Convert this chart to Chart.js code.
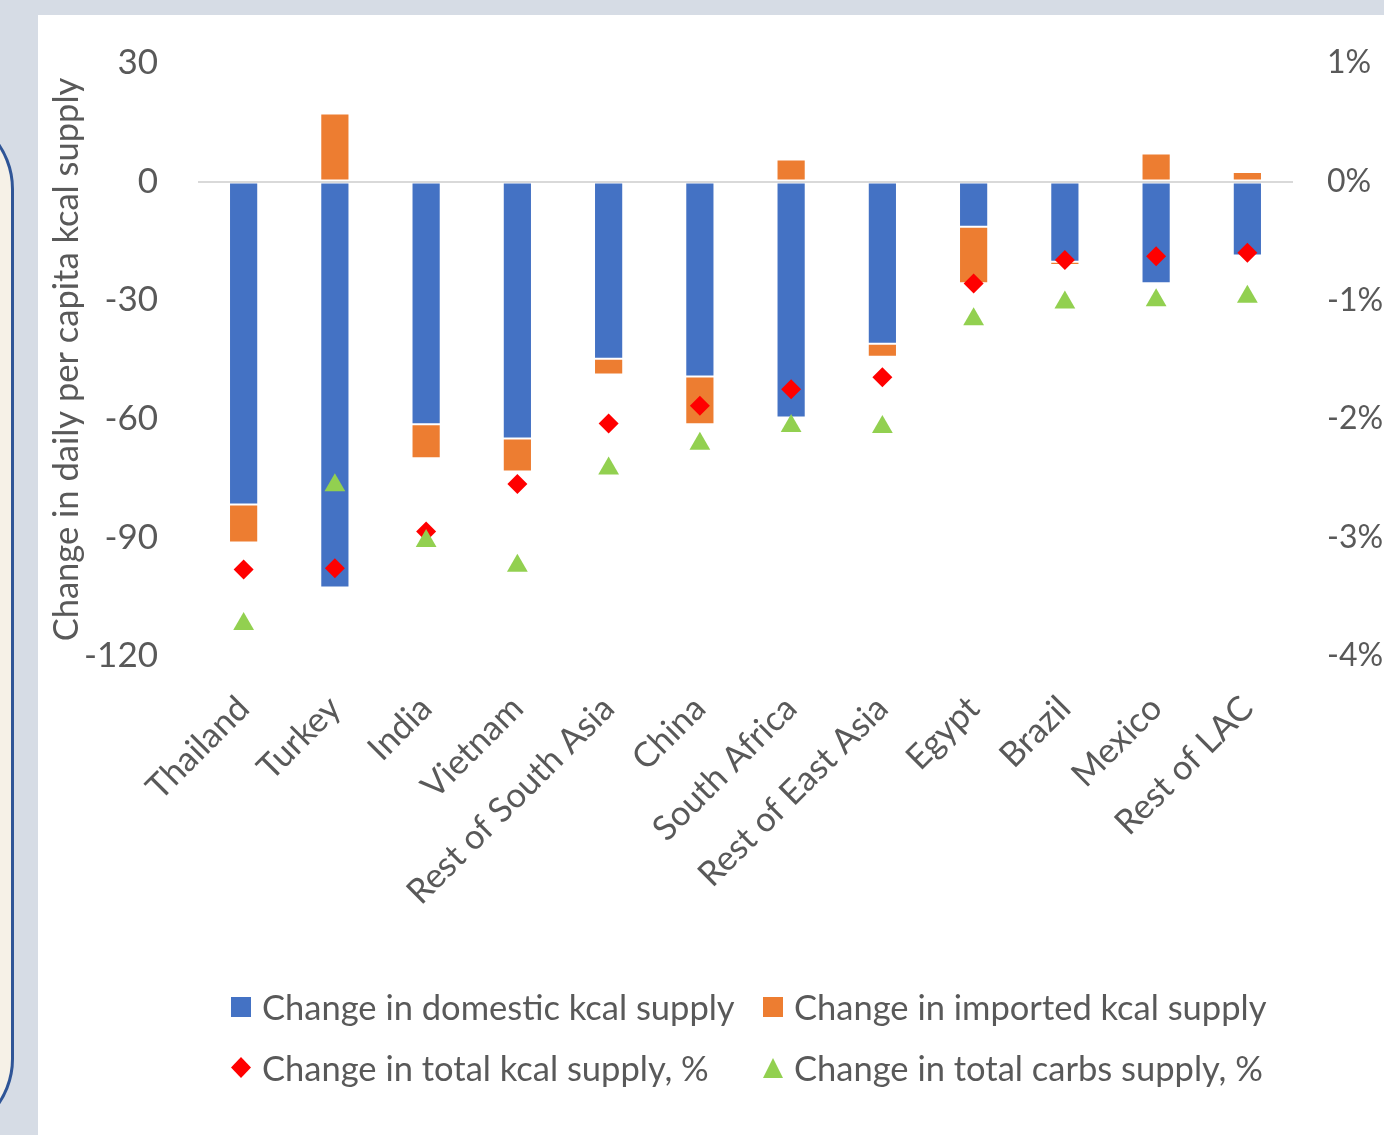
<!DOCTYPE html>
<html>
<head>
<meta charset="utf-8">
<title>Change in kcal supply</title>
<script src="https://cdn.jsdelivr.net/npm/chart.js@4.4.1/dist/chart.umd.min.js"></script>
<style>
  html, body { margin: 0; }
  body { width: 1384px; height: 1135px; background: #d6dce5; position: relative; overflow: hidden; }
  .tab { position: absolute; left: -222px; top: 109px; width: 230px; height: 1024px; border: 3px solid #2f5597; border-radius: 80px; background: #f6f1e7; }
  .panel { position: absolute; left: 38px; top: 15px; width: 1346px; height: 1120px; background: #fff; }
  #legend {
    position: absolute; left: 231px; top: 976px;
    display: grid; grid-template-columns: 532px auto; grid-auto-rows: 61px; align-items: center;
    font: 34.5px Lato, "Open Sans", sans-serif; color: #595959; white-space: nowrap;
  }
  #legend .item { display: flex; align-items: center; gap: 11px; }
  #legend canvas { display: block; }
</style>
</head>
<body>
<div class="tab"></div>
<div class="panel"><canvas id="chart"></canvas></div>
<div id="legend"></div>
<script>
const countries = ["Thailand", "Turkey", "India", "Vietnam", "Rest of South Asia", "China",
  "South Africa", "Rest of East Asia", "Egypt", "Brazil", "Mexico", "Rest of LAC"];

// kcal per capita per day
const domesticKcal = [-81.7, -102.7, -61.4, -65.0, -44.8, -49.3, -59.7, -41.0, -11.4, -20.3, -25.7, -18.7];
const importedKcal = [-9.6, 17.2, -8.6, -8.3, -4.0, -12.1, 5.6, -3.3, -14.3, -0.8, 7.1, 2.4];

// percent change, right axis
const totalKcalPct = [-3.27, -3.26, -2.95, -2.55, -2.04, -1.89, -1.75, -1.65, -0.86, -0.66, -0.63, -0.60];
const totalCarbsPct = [-3.73, -2.56, -3.03, -3.24, -2.42, -2.21, -2.06, -2.07, -1.16, -1.02, -1.00, -0.97];

const leftTicks = [-120, 30];
const rightTicks = [-4, 1];

const BLUE = "#4472c4", ORANGE = "#ed7d31", RED = "#ff0000", GREEN = "#92d050";
const GREY = "#595959";
const TEXT_SIZE = 34.5;

Chart.defaults.font.family = "Lato, 'Open Sans', sans-serif";
Chart.defaults.color = GREY;

// small canvases used as legend symbols
function mark(w, h, draw) {
  const c = document.createElement("canvas");
  c.width = w; c.height = h;
  draw(c.getContext("2d"), w, h);
  return c;
}
const legendMarks = [
  mark(20, 20, (g, w, h) => { g.fillStyle = BLUE; g.fillRect(0, 0, w, h); }),
  mark(20, 20, (g, w, h) => { g.fillStyle = ORANGE; g.fillRect(0, 0, w, h); }),
  mark(20, 21, (g, w, h) => {
    g.fillStyle = RED; g.beginPath();
    g.moveTo(w / 2, 0); g.lineTo(w, h / 2); g.lineTo(w / 2, h); g.lineTo(0, h / 2);
    g.closePath(); g.fill();
  }),
  mark(20, 20, (g, w, h) => {
    g.fillStyle = GREEN; g.beginPath();
    g.moveTo(w / 2, 0); g.lineTo(w, h); g.lineTo(0, h);
    g.closePath(); g.fill();
  }),
];

// keep tick padding from pushing the plot area in
const trimPadding = (s) => { s.paddingTop = 0; s.paddingBottom = 0; };

const chart = new Chart(document.getElementById("chart"), {
  type: "bar",
  data: {
    labels: countries,
    datasets: [
      {
        label: "Change in domestic kcal supply",
        data: domesticKcal,
        backgroundColor: BLUE,
        borderColor: "rgba(255,255,255,0.15)",
        borderWidth: 1,
        borderSkipped: false,
        yAxisID: "y",
        order: 2,
      },
      {
        label: "Change in imported kcal supply",
        data: importedKcal,
        backgroundColor: ORANGE,
        borderColor: "rgba(255,255,255,0.15)",
        borderWidth: 1,
        borderSkipped: false,
        yAxisID: "y",
        order: 2,
      },
      {
        type: "line",
        label: "Change in total kcal supply, %",
        data: totalKcalPct,
        showLine: false,
        pointStyle: "rectRot",
        pointRadius: 10,
        pointBorderWidth: 0,
        backgroundColor: RED,
        borderColor: RED,
        yAxisID: "y1",
        order: 1,
      },
      {
        type: "line",
        label: "Change in total carbs supply, %",
        data: totalCarbsPct,
        showLine: false,
        pointStyle: "triangle",
        pointRadius: 12,
        pointBorderWidth: 0,
        backgroundColor: GREEN,
        borderColor: GREEN,
        yAxisID: "y1",
        order: 0,
      },
    ],
  },
  options: {
    responsive: true,
    maintainAspectRatio: false,
    animation: false,
    layout: { padding: { top: 48, bottom: 0, left: 0, right: 0 } },
    datasets: {
      bar: { barPercentage: 0.64, categoryPercentage: 0.5 },
    },
    scales: {
      x: {
        stacked: true,
        grid: { display: false },
        border: { display: false },
        ticks: { autoSkip: false, maxRotation: 45, minRotation: 45, padding: 24, font: { size: TEXT_SIZE } },
        afterFit: (s) => { s.height = 479; },
      },
      y: {
        stacked: true,
        position: "left",
        min: leftTicks[0],
        max: leftTicks[1],
        ticks: { stepSize: 30, padding: 40, font: { size: 35 } },
        grid: {
          drawTicks: false,
          lineWidth: 2,
          color: (c) => (c.tick && c.tick.value === 0 ? "#d9d9d9" : "transparent"),
        },
        border: { display: false },
        title: {
          display: true,
          text: "Change in daily per capita kcal supply",
          font: { size: TEXT_SIZE },
          padding: { top: 8, bottom: 0 },
        },
        afterFit: (s) => { s.width = 160; trimPadding(s); },
      },
      y1: {
        position: "right",
        min: rightTicks[0],
        max: rightTicks[1],
        ticks: { stepSize: 1, padding: 34, font: { size: 32 }, callback: (v) => v + "%" },
        grid: { display: false, drawTicks: false },
        border: { display: false },
        afterFit: (s) => { s.width = 91; trimPadding(s); },
      },
    },
    plugins: {
      tooltip: { enabled: false },
      legend: { display: false },
    },
  },
});

// legend laid out in two columns under the plot
const legendBox = document.getElementById("legend");
chart.data.datasets.forEach((ds, i) => {
  const item = document.createElement("div");
  item.className = "item";
  item.appendChild(legendMarks[i]);
  const text = document.createElement("span");
  text.textContent = ds.label;
  item.appendChild(text);
  legendBox.appendChild(item);
});
</script>
</body>
</html>
